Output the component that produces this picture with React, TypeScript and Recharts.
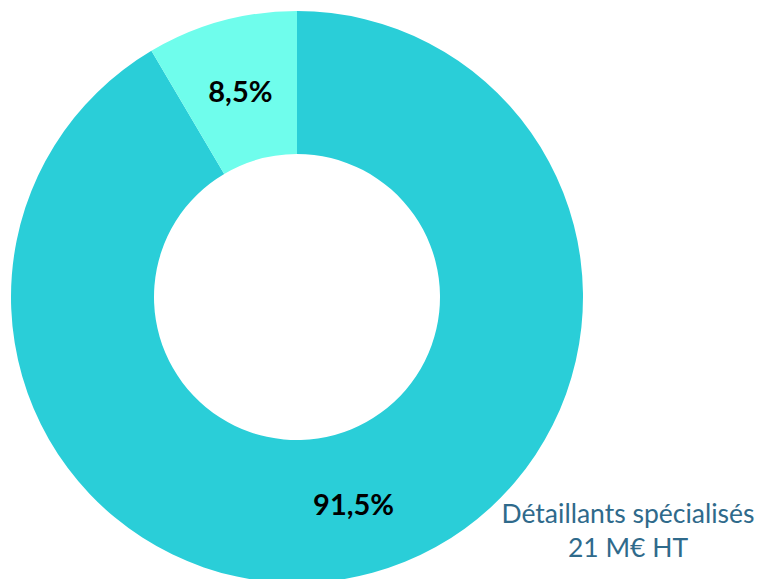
import React from "react";
import { PieChart, Pie, Cell } from "recharts";

const categories = ["Détaillants spécialisés", "Autres"];
const shares = [91.5, 8.5];
const pctLabels = ["91,5%", "8,5%"];
const categoryNotes = ["21 M€ HT", ""];
const colors = ["#2ACED8", "#6FFDEC"];

const data = categories.map((name, i) => ({ name, value: shares[i] }));

const RAD = Math.PI / 180;

const renderLabel = (props: any) => {
  const { cx, cy, midAngle, innerRadius, outerRadius, index } = props;
  const r = (innerRadius + outerRadius) / 2;
  const x = cx + r * Math.cos(-midAngle * RAD);
  const y = cy + r * Math.sin(-midAngle * RAD);
  return (
    <g>
      <text
        x={x}
        y={y}
        textAnchor="middle"
        dominantBaseline="central"
        fill="#000"
        fontFamily="Lato, 'Open Sans', sans-serif"
        fontWeight={700}
        fontSize={29}
      >
        {pctLabels[index]}
      </text>
      {index === 0 && (
        <text
          x={cx + 331}
          y={cy + 226}
          textAnchor="middle"
          fill="#2F6A8B"
          fontFamily="Lato, 'Open Sans', sans-serif"
          fontSize={26.5}
        >
          <tspan x={cx + 331} dy={0}>{categories[index]}</tspan>
          <tspan x={cx + 331} dy={34}>{categoryNotes[index]}</tspan>
        </text>
      )}
    </g>
  );
};

export default function App() {
  return (
    <div style={{ position: "absolute", left: 0, top: 0, width: 761, height: 579, background: "#fff" }}>
      <PieChart width={761} height={579} margin={{ top: 0, right: 0, bottom: 0, left: 0 }}>
        <Pie
          data={data}
          dataKey="value"
          cx={297}
          cy={297}
          innerRadius={143}
          outerRadius={286}
          startAngle={90}
          endAngle={-270}
          stroke="none"
          label={renderLabel}
          labelLine={false}
          isAnimationActive={false}
        >
          {data.map((d, i) => (
            <Cell key={d.name} fill={colors[i]} />
          ))}
        </Pie>
      </PieChart>
    </div>
  );
}
